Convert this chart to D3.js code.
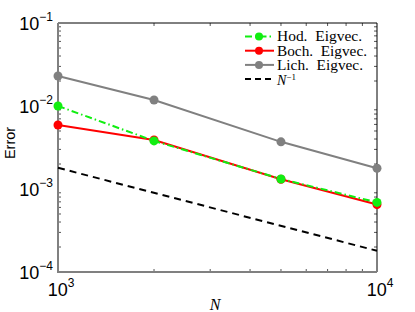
<!DOCTYPE html>
<html><head><meta charset="utf-8">
<script src="https://cdn.jsdelivr.net/npm/d3@7/dist/d3.min.js"></script>
<style>body{margin:0;background:#fff}svg{display:block}text{white-space:pre}</style>
</head><body><svg id="c" width="415" height="312"></svg>
<script>
const N = [1000, 2000, 5000, 10000];
const hod = [0.0100, 0.0038, 0.00132, 0.00069];
const boch = [0.0059, 0.0039, 0.00131, 0.00065];
const lich = [0.0230, 0.0118, 0.0037, 0.00178];
const refN = [1000, 10000];
const refVals = [0.0018, 0.00018];
const xTicks = [1000, 10000];
const yTicks = [1e-4, 1e-3, 1e-2, 1e-1];
const legendLabels = ["Hod.  Eigvec.", "Boch.  Eigvec.", "Lich.  Eigvec."];

const svg = d3.select("#c");
const L = 58, R = 377, T = 23, B = 272;
const x = d3.scaleLog().domain([1000, 10000]).range([L, R]);
const y = d3.scaleLog().domain([1e-4, 1e-1]).range([B, T]);

// minor ticks
const minorX = [];
for (let v = 2000; v < 10000; v += 1000) minorX.push(v);
const minorY = [];
for (let e = -4; e < -1; e++) for (let m = 2; m <= 9; m++) minorY.push(m * Math.pow(10, e));
const g = svg.append("g");
minorY.forEach(v => {
  g.append("line").attr("x1", L).attr("x2", L + 3).attr("y1", y(v)).attr("y2", y(v)).attr("stroke", "#555").attr("stroke-width", 1);
  g.append("line").attr("x1", R).attr("x2", R - 3).attr("y1", y(v)).attr("y2", y(v)).attr("stroke", "#555").attr("stroke-width", 1);
});
minorX.forEach(v => {
  g.append("line").attr("x1", x(v)).attr("x2", x(v)).attr("y1", B).attr("y2", B - 3).attr("stroke", "#555").attr("stroke-width", 1);
  g.append("line").attr("x1", x(v)).attr("x2", x(v)).attr("y1", T).attr("y2", T + 3).attr("stroke", "#555").attr("stroke-width", 1);
});

// frame
svg.append("line").attr("x1", L).attr("x2", R).attr("y1", T).attr("y2", T).attr("stroke", "#000").attr("stroke-width", 1);
svg.append("line").attr("x1", R).attr("x2", R).attr("y1", T).attr("y2", B).attr("stroke", "#000").attr("stroke-width", 1);
svg.append("line").attr("x1", L).attr("x2", L).attr("y1", T).attr("y2", B + 1).attr("stroke", "#808080").attr("stroke-width", 2);
svg.append("line").attr("x1", L - 1).attr("x2", R).attr("y1", B).attr("y2", B).attr("stroke", "#808080").attr("stroke-width", 2);

const font = "Liberation Sans, Arial, sans-serif";
function pow10(sel, exp) {
  sel.append("tspan").text("10");
  sel.append("tspan").attr("dy", -9).attr("font-size", 12).text(exp);
}
yTicks.forEach(v => {
  const t = svg.append("text").attr("x", 53).attr("y", y(v) + 7).attr("text-anchor", "end")
    .attr("font-family", font).attr("font-size", 18).attr("fill", "#000");
  pow10(t, "\u2212" + Math.round(-Math.log10(v)));
});
xTicks.forEach(v => {
  const t = svg.append("text").attr("x", x(v) + 3).attr("y", 296).attr("text-anchor", "middle")
    .attr("font-family", font).attr("font-size", 18).attr("fill", "#000");
  pow10(t, String(Math.round(Math.log10(v))));
});
svg.append("text").attr("transform", "translate(15,143) rotate(-90)").attr("text-anchor", "middle")
  .attr("font-family", font).attr("font-size", 14.5).text("Error");
svg.append("text").attr("x", 215).attr("y", 310).attr("text-anchor", "middle")
  .attr("font-family", "Liberation Serif, serif").attr("font-style", "italic").attr("font-size", 16).text("N");

const line = d3.line().x(d => x(d[0])).y(d => y(d[1]));
const series = [
  {vals: lich, color: "#808080", dash: null},
  {vals: boch, color: "#ff0000", dash: null},
  {vals: hod, color: "#11ee11", dash: "7,3,1.5,3"},
];
svg.append("path").datum(refN.map((n, i) => [n, refVals[i]])).attr("d", line)
  .attr("fill", "none").attr("stroke", "#000").attr("stroke-width", 2).attr("stroke-dasharray", "7,5");
series.forEach(s => {
  const data = N.map((n, i) => [n, s.vals[i]]);
  svg.append("path").datum(data).attr("d", line).attr("fill", "none").attr("stroke", s.color)
    .attr("stroke-width", 2).attr("stroke-dasharray", s.dash);
  svg.selectAll(null).data(data).enter().append("circle").attr("cx", d => x(d[0])).attr("cy", d => y(d[1]))
    .attr("r", 4.5).attr("fill", s.color);
});

// legend
const leg = [
  {label: legendLabels[0], color: "#11ee11", dash: "7,3,1.5,3", w: 85},
  {label: legendLabels[1], color: "#ff0000", dash: null, w: 90},
  {label: legendLabels[2], color: "#808080", dash: null, w: 86},
];
const lx0 = 245, lx1 = 274, ly0 = 36.5, ldy = 14.2;
leg.forEach((d, i) => {
  const yy = ly0 + i * ldy;
  svg.append("line").attr("x1", lx0).attr("x2", lx1).attr("y1", yy).attr("y2", yy).attr("stroke", d.color)
    .attr("stroke-width", 2).attr("stroke-dasharray", d.dash);
  svg.append("circle").attr("cx", 259).attr("cy", yy).attr("r", 4).attr("fill", d.color);
  svg.append("text").attr("x", 277).attr("y", yy + 4.8).attr("font-family", "Liberation Serif, serif")
    .attr("font-size", 14).attr("textLength", d.w).attr("lengthAdjust", "spacingAndGlyphs").text(d.label);
});
const yy = ly0 + 3 * ldy;
svg.append("line").attr("x1", lx0).attr("x2", lx1).attr("y1", yy).attr("y2", yy).attr("stroke", "#000")
  .attr("stroke-width", 2).attr("stroke-dasharray", "6,4");
const nt = svg.append("text").attr("x", 277).attr("y", yy + 5.5).attr("font-family", "Liberation Serif, serif").attr("font-size", 14);
nt.append("tspan").attr("font-style", "italic").text("N");
nt.append("tspan").attr("dy", -5).attr("font-size", 9).text("\u22121");
</script></body></html>
